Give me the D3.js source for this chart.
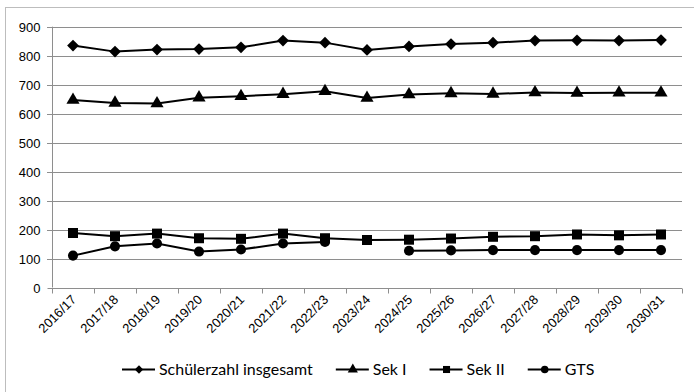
<!DOCTYPE html>
<html>
<head>
<meta charset="utf-8">
<script src="https://cdn.jsdelivr.net/npm/d3@7"></script>
<style>
  html, body { margin: 0; padding: 0; background: #fff; }
  svg { display: block; }
</style>
</head>
<body>
<svg id="chart" width="694" height="392"></svg>
<script>
// School years
const years = ["2016/17","2017/18","2018/19","2019/20","2020/21","2021/22","2022/23",
  "2023/24","2024/25","2025/26","2026/27","2027/28","2028/29","2029/30","2030/31"];

// Pupil numbers per series (null = no value for that year)
const gesamt = [835, 814, 821, 823, 829, 852, 845, 820, 832, 840, 845, 852, 853, 852, 854];
const sek1   = [647, 637, 635, 655, 660, 667, 677, 654, 666, 670, 668, 673, 671, 672, 672];
const sek2   = [188, 177, 186, 170, 168, 186, 170, 164, 165, 169, 175, 177, 183, 180, 183];
const gts    = [110, 142, 152, 124, 131, 152, 157, null, 127, 128, 129, 129, 129, 129, 129];

const yTicks = [0, 100, 200, 300, 400, 500, 600, 700, 800, 900];

const seriesNames = ["Schülerzahl insgesamt", "Sek I", "Sek II", "GTS"];
const seriesValues = [gesamt, sek1, sek2, gts];
const seriesSymbols = [d3.symbolDiamond2, d3.symbolTriangle, d3.symbolSquare, d3.symbolCircle];
const markerSizes = [88, 75, 100, 80];
const legendSizes = [45, 45, 50, 45];

const svg = d3.select("#chart");

// Outer chart frame
svg.append("rect")
  .attr("x", 5.5).attr("y", 7.5)
  .attr("width", 700).attr("height", 400)
  .attr("fill", "#fff")
  .attr("stroke", "#bdbdbd")
  .attr("stroke-width", 1);

const plot = { left: 52, right: 682, top: 26.7, bottom: 287.5 };

const x = d3.scaleBand().domain(years).range([plot.left, plot.right]);
const cx = d => x(d) + x.bandwidth() / 2;
const y = d3.scaleLinear().domain([0, 900]).range([plot.bottom, plot.top]);

const axisFont = "'Liberation Sans', Arial, sans-serif";

// Horizontal gridlines with small left ticks
svg.append("g")
  .selectAll("line")
  .data(yTicks.filter(t => t > 0))
  .join("line")
  .attr("x1", plot.left - 5).attr("x2", plot.right)
  .attr("y1", d => Math.round(y(d)) + 0.5).attr("y2", d => Math.round(y(d)) + 0.5)
  .attr("stroke", "#8e8e8e").attr("stroke-width", 1);

// Y axis
const yAxis = svg.append("g")
  .attr("transform", `translate(${plot.left + 0.5},0)`)
  .attr("font-family", axisFont)
  .call(d3.axisLeft(y).tickValues(yTicks).tickSize(5).tickPadding(7));
yAxis.attr("font-family", axisFont).attr("font-size", 13);
yAxis.select(".domain").attr("stroke", "#8e8e8e").attr("d", `M0,${y(900)}V${y(0)}`);
yAxis.selectAll(".tick line").attr("stroke", "#8e8e8e");
yAxis.selectAll(".tick text").attr("fill", "#000");
yAxis.selectAll(".tick").attr("transform", d => `translate(0,${Math.round(y(d)) + 0.5})`);

// X axis with boundary ticks
const xAxisG = svg.append("g")
  .attr("transform", `translate(0,${Math.round(y(0)) + 0.5})`);
xAxisG.append("line")
  .attr("x1", plot.left).attr("x2", plot.right)
  .attr("stroke", "#8e8e8e");
xAxisG.selectAll("line.tk")
  .data(years.map(d => x(d)).concat([plot.right]))
  .join("line")
  .attr("class", "tk")
  .attr("x1", d => Math.round(d) + 0.5).attr("x2", d => Math.round(d) + 0.5)
  .attr("y1", 0).attr("y2", 5)
  .attr("stroke", "#8e8e8e");
xAxisG.selectAll("text")
  .data(years)
  .join("text")
  .attr("transform", d => `translate(${cx(d) + 4},${12}) rotate(-45)`)
  .attr("text-anchor", "end")
  .attr("font-family", axisFont).attr("font-size", 13)
  .attr("fill", "#000")
  .text(d => d);

// Series lines and markers
const line = d3.line()
  .defined(d => d.v != null)
  .x(d => cx(d.year))
  .y(d => y(d.v));

seriesValues.forEach((vals, i) => {
  const pts = years.map((year, j) => ({ year, v: vals[j] }));
  svg.append("path")
    .datum(pts)
    .attr("fill", "none")
    .attr("stroke", "#000")
    .attr("stroke-width", 2)
    .attr("d", line);
  svg.append("g")
    .selectAll("path")
    .data(pts.filter(d => d.v != null))
    .join("path")
    .attr("transform", d => `translate(${cx(d.year)},${y(d.v)})`)
    .attr("d", d3.symbol().type(seriesSymbols[i]).size(markerSizes[i]))
    .attr("fill", "#000");
});

// Legend: font size chosen so the longest entry spans 154px
const legendFont = "Lato, 'Open Sans', sans-serif";
const probe = svg.append("text")
  .attr("font-family", legendFont).attr("font-size", 20)
  .text(seriesNames[0]);
const legendFontSize = 20 * 154 / probe.node().getComputedTextLength();
probe.remove();

const legend = svg.append("g").attr("transform", "translate(122,369)");
let lx = 0;
seriesNames.forEach((name, i) => {
  const g = legend.append("g").attr("transform", `translate(${lx},0)`);
  g.append("line")
    .attr("x1", 0).attr("x2", 33).attr("y1", 0.5).attr("y2", 0.5)
    .attr("stroke", "#000").attr("stroke-width", 2);
  g.append("path")
    .attr("transform", "translate(17,0.5)")
    .attr("d", d3.symbol().type(seriesSymbols[i]).size(legendSizes[i]))
    .attr("fill", "#000");
  const t = g.append("text")
    .attr("x", 37).attr("y", 5.5)
    .attr("font-family", legendFont).attr("font-size", legendFontSize)
    .attr("fill", "#000")
    .text(name);
  lx += 37 + t.node().getComputedTextLength() + 23;
});
</script>
</body>
</html>
